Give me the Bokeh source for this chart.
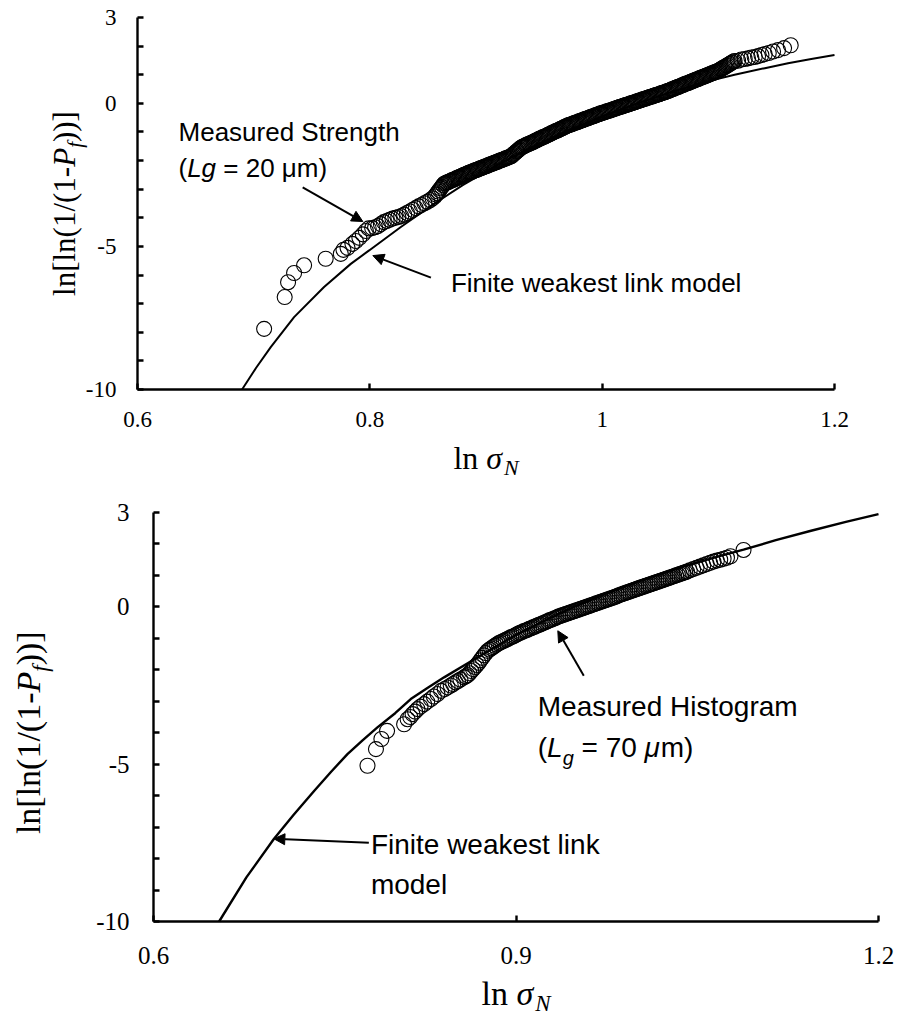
from bokeh.plotting import figure
from bokeh.layouts import column
from bokeh.models import Range1d, FixedTicker, Label, Arrow, NormalHead
from bokeh.embed import file_html
from bokeh.resources import INLINE
import math

# ---------------------------------------------------------------- data
# Upper panel: measured strength, Lg = 20 um  (ln sigma_N, ln[ln(1/(1-Pf))])
top_meas_x = [
    0.709, 0.7267, 0.7296, 0.7348, 0.7434, 0.762, 0.775, 0.7773, 0.7808, 0.785,
    0.788, 0.791, 0.794, 0.7966, 0.799,
    0.802, 0.8045, 0.807, 0.8095, 0.812, 0.8145, 0.817, 0.8195, 0.822, 0.8245,
    0.827, 0.8295, 0.832, 0.8345, 0.837, 0.8395, 0.842, 0.8445, 0.847, 0.8495,
    0.852, 0.854,
    0.856, 0.857, 0.858, 0.859, 0.860, 0.861, 0.862, 0.863, 0.864, 0.865,
    0.866, 0.867, 0.868, 0.869, 0.870, 0.871, 0.872, 0.873, 0.874, 0.875,
    0.876, 0.877, 0.878, 0.879, 0.880, 0.881, 0.882, 0.883, 0.884, 0.885,
    0.886, 0.887, 0.888, 0.889, 0.890, 0.891, 0.892, 0.893, 0.894, 0.895,
    0.896, 0.897, 0.898, 0.899, 0.900, 0.901, 0.902, 0.903, 0.904, 0.905,
    0.906, 0.907, 0.908, 0.909, 0.910, 0.911, 0.912, 0.913, 0.914, 0.915,
    0.916, 0.917, 0.918, 0.919, 0.920, 0.921, 0.922, 0.923, 0.924, 0.925,
    0.926, 0.927, 0.928, 0.929, 0.930, 0.931, 0.932, 0.933, 0.934, 0.935,
    0.936, 0.937, 0.938, 0.939, 0.940, 0.941, 0.942, 0.943, 0.944, 0.945,
    0.946, 0.947, 0.948, 0.949, 0.950, 0.951, 0.952, 0.953, 0.954, 0.955,
    0.956, 0.957, 0.958, 0.959, 0.960, 0.961, 0.962, 0.963, 0.964, 0.965,
    0.966, 0.967, 0.968, 0.969, 0.970, 0.971, 0.972, 0.973, 0.974, 0.975,
    0.976, 0.977, 0.978, 0.979, 0.980, 0.981, 0.982, 0.983, 0.984, 0.985,
    0.986, 0.987, 0.988, 0.989, 0.990, 0.991, 0.992, 0.993, 0.994, 0.995,
    0.996, 0.997, 0.998, 0.999, 1.000, 1.001, 1.002, 1.003, 1.004, 1.005,
    1.006, 1.007, 1.008, 1.009, 1.010, 1.011, 1.012, 1.013, 1.014, 1.015,
    1.016, 1.017, 1.018, 1.019, 1.020, 1.021, 1.022, 1.023, 1.024, 1.025,
    1.026, 1.027, 1.028, 1.029, 1.030, 1.031, 1.032, 1.033, 1.034, 1.035,
    1.036, 1.037, 1.038, 1.039, 1.040, 1.041, 1.042, 1.043, 1.044, 1.045,
    1.046, 1.047, 1.048, 1.049, 1.050, 1.051, 1.052, 1.053, 1.054, 1.055,
    1.056, 1.057, 1.058, 1.059, 1.060, 1.061, 1.062, 1.063, 1.064, 1.065,
    1.066, 1.067, 1.068, 1.069, 1.070, 1.071, 1.072, 1.073, 1.074, 1.075,
    1.076, 1.077, 1.078, 1.079, 1.080, 1.081, 1.082, 1.083, 1.084, 1.085,
    1.086, 1.087, 1.088, 1.089, 1.090, 1.091, 1.092, 1.093, 1.094, 1.095,
    1.096, 1.097, 1.098, 1.099, 1.100, 1.101, 1.102, 1.103, 1.104, 1.105,
    1.106, 1.107, 1.108, 1.109, 1.110, 1.111, 1.112, 1.113, 1.114,
    1.117, 1.1198, 1.1227, 1.1256, 1.1284, 1.1313, 1.1342, 1.1371, 1.1399,
    1.1434, 1.1471, 1.1514, 1.1566, 1.1623,
]
top_meas_y = [
    -7.88, -6.77, -6.25, -5.93, -5.66, -5.43, -5.26, -5.12, -5.05, -4.91,
    -4.81, -4.70, -4.58, -4.46, -4.37,
    -4.36, -4.33, -4.29, -4.22, -4.15, -4.11, -4.07, -4.03, -4.00, -3.97,
    -3.94, -3.89, -3.83, -3.78, -3.72, -3.66, -3.60, -3.55, -3.49, -3.44,
    -3.38, -3.32,
    -3.25, -3.19, -3.14, -3.08, -3.03, -2.97, -2.92, -2.86, -2.81, -2.79,
    -2.77, -2.76, -2.74, -2.72, -2.70, -2.68, -2.67, -2.65, -2.63, -2.61,
    -2.59, -2.58, -2.56, -2.54, -2.52, -2.50, -2.49, -2.47, -2.45, -2.43,
    -2.42, -2.40, -2.39, -2.37, -2.35, -2.34, -2.32, -2.31, -2.29, -2.27,
    -2.26, -2.24, -2.23, -2.21, -2.20, -2.18, -2.16, -2.15, -2.13, -2.11,
    -2.10, -2.08, -2.07, -2.05, -2.04, -2.02, -2.00, -1.99, -1.97, -1.96,
    -1.94, -1.92, -1.91, -1.89, -1.88, -1.86, -1.84, -1.80, -1.76, -1.73,
    -1.69, -1.66, -1.62, -1.59, -1.55, -1.53, -1.51, -1.49, -1.47, -1.45,
    -1.43, -1.41, -1.40, -1.38, -1.36, -1.34, -1.32, -1.30, -1.28, -1.26,
    -1.24, -1.22, -1.20, -1.18, -1.17, -1.15, -1.13, -1.11, -1.09, -1.07,
    -1.05, -1.03, -1.01, -0.99, -0.97, -0.96, -0.94, -0.92, -0.90, -0.88,
    -0.86, -0.84, -0.82, -0.80, -0.78, -0.77, -0.75, -0.74, -0.72, -0.71,
    -0.69, -0.68, -0.66, -0.65, -0.63, -0.62, -0.60, -0.59, -0.57, -0.56,
    -0.54, -0.53, -0.51, -0.50, -0.48, -0.47, -0.45, -0.44, -0.42, -0.41,
    -0.39, -0.38, -0.36, -0.35, -0.34, -0.32, -0.31, -0.30, -0.28, -0.27,
    -0.26, -0.24, -0.23, -0.22, -0.20, -0.19, -0.17, -0.16, -0.15, -0.13,
    -0.12, -0.11, -0.09, -0.08, -0.07, -0.05, -0.04, -0.03, -0.01, 0.00,
    0.01, 0.03, 0.04, 0.05, 0.07, 0.08, 0.10, 0.11, 0.12, 0.14,
    0.15, 0.16, 0.18, 0.19, 0.20, 0.22, 0.23, 0.24, 0.26, 0.27,
    0.28, 0.30, 0.31, 0.32, 0.34, 0.35, 0.37, 0.38, 0.39, 0.41,
    0.42, 0.44, 0.45, 0.47, 0.49, 0.50, 0.52, 0.54, 0.55, 0.57,
    0.58, 0.60, 0.62, 0.63, 0.65, 0.67, 0.68, 0.70, 0.71, 0.73,
    0.75, 0.76, 0.78, 0.80, 0.81, 0.83, 0.84, 0.86, 0.88, 0.89,
    0.91, 0.93, 0.94, 0.96, 0.97, 0.99, 1.01, 1.02, 1.04, 1.06,
    1.07, 1.09, 1.10, 1.12, 1.14, 1.16, 1.19, 1.21, 1.24, 1.26,
    1.28, 1.31, 1.33, 1.36, 1.38, 1.41, 1.43, 1.46, 1.48,
    1.49, 1.53, 1.55, 1.57, 1.60, 1.62, 1.65, 1.69, 1.72,
    1.76, 1.81, 1.86, 1.93, 2.03,
]
top_model_x = [0.690, 0.702, 0.7147, 0.7348, 0.7606, 0.7836, 0.7994, 0.8267,
               0.8554, 0.880, 0.910, 0.940, 0.970, 1.000, 1.030, 1.060, 1.090,
               1.114, 1.140, 1.160, 1.180, 1.200]
top_model_y = [-10.0, -9.25, -8.52, -7.47, -6.42, -5.61, -5.14, -4.32,
               -3.51, -2.86, -2.15, -1.52, -0.96, -0.46, 0.00, 0.40, 0.76,
               1.00, 1.23, 1.40, 1.55, 1.69]

# Lower panel: measured histogram, Lg = 70 um
bot_meas_x = [
    0.7771, 0.7841, 0.7886, 0.7933,
    0.8074, 0.8103, 0.8125, 0.8144, 0.8165, 0.8185, 0.821, 0.824, 0.8265,
    0.8296, 0.832, 0.835, 0.838, 0.841, 0.8434, 0.846, 0.848, 0.850, 0.852,
    0.854, 0.857,
    0.8585, 0.8600, 0.8615, 0.8630, 0.8645, 0.8660, 0.8675, 0.8690, 0.8705,
    0.8720, 0.8735, 0.8750, 0.8765, 0.8780, 0.8795, 0.8810, 0.8825, 0.8840,
    0.8855, 0.8870, 0.8885, 0.8900, 0.8915, 0.8930, 0.8945, 0.8960, 0.8975,
    0.8990, 0.9005, 0.9020, 0.9035, 0.9050, 0.9065, 0.9080, 0.9095, 0.9110,
    0.9125, 0.9140, 0.9155, 0.9170, 0.9185, 0.9200, 0.9215, 0.9230, 0.9245,
    0.9260, 0.9275, 0.9290, 0.9305, 0.9320, 0.9335, 0.9350, 0.9365, 0.9380,
    0.9395, 0.9410, 0.9425, 0.9440, 0.9455, 0.9470, 0.9485, 0.9500, 0.9515,
    0.9530, 0.9545, 0.9560, 0.9575, 0.9590, 0.9605, 0.9620, 0.9635, 0.9650,
    0.9665, 0.9680, 0.9695, 0.9710, 0.9725, 0.9740, 0.9755, 0.9770, 0.9785,
    0.9800, 0.9815, 0.9830, 0.9845, 0.9860, 0.9875, 0.9890, 0.9905, 0.9920,
    0.9935, 0.9950, 0.9965, 0.9980, 0.9995, 1.0010, 1.0025, 1.0040, 1.0055,
    1.0070, 1.0085, 1.0100, 1.0115, 1.0130, 1.0145, 1.0160, 1.0175, 1.0190,
    1.0205, 1.0220, 1.0235, 1.0250, 1.0265, 1.0280, 1.0295, 1.0310, 1.0325,
    1.0340, 1.0355, 1.0370, 1.0385, 1.0400, 1.0415,
    1.0438, 1.0466, 1.0494, 1.0522, 1.0550, 1.0578, 1.0606, 1.0634, 1.0662,
    1.0690, 1.0718, 1.0746, 1.0775, 1.0883,
]
bot_meas_y = [
    -5.05, -4.52, -4.20, -3.94,
    -3.73, -3.57, -3.50, -3.41, -3.33, -3.25, -3.17, -3.09, -3.01,
    -2.93, -2.85, -2.77, -2.67, -2.61, -2.56, -2.50, -2.45, -2.40, -2.36,
    -2.31, -2.24,
    -2.21, -2.17, -2.11, -2.04, -1.98, -1.91, -1.85, -1.78, -1.70,
    -1.62, -1.54, -1.47, -1.40, -1.36, -1.32, -1.28, -1.24, -1.20,
    -1.16, -1.13, -1.10, -1.08, -1.05, -1.02, -0.99, -0.96, -0.94,
    -0.91, -0.88, -0.85, -0.82, -0.80, -0.77, -0.75, -0.73, -0.70,
    -0.68, -0.65, -0.63, -0.60, -0.58, -0.56, -0.53, -0.51, -0.48,
    -0.46, -0.43, -0.41, -0.39, -0.36, -0.34, -0.31, -0.29, -0.27,
    -0.25, -0.23, -0.21, -0.19, -0.17, -0.15, -0.13, -0.11, -0.09,
    -0.07, -0.05, -0.03, -0.01, 0.01, 0.03, 0.05, 0.07, 0.09,
    0.11, 0.13, 0.15, 0.17, 0.19, 0.21, 0.23, 0.25, 0.27,
    0.29, 0.31, 0.33, 0.36, 0.38, 0.40, 0.42, 0.44, 0.46,
    0.48, 0.50, 0.52, 0.54, 0.56, 0.58, 0.60, 0.62, 0.64,
    0.66, 0.68, 0.70, 0.72, 0.74, 0.76, 0.78, 0.80, 0.82,
    0.84, 0.86, 0.88, 0.90, 0.92, 0.94, 0.96, 0.98, 1.00,
    1.02, 1.04, 1.06, 1.08, 1.10, 1.12,
    1.16, 1.20, 1.24, 1.28, 1.32, 1.36, 1.40, 1.44, 1.47,
    1.50, 1.53, 1.56, 1.61, 1.81,
]
bot_model_x = [0.6543, 0.677, 0.6996, 0.716, 0.7329, 0.747, 0.7605, 0.773,
               0.7853, 0.800, 0.8129, 0.827, 0.8405, 0.860, 0.880, 0.900,
               0.925, 0.950, 0.975, 1.000, 1.025, 1.0473, 1.070, 1.0883,
               1.115, 1.1442, 1.173, 1.200]
bot_model_y = [-10.0, -8.59, -7.38, -6.61, -5.85, -5.24, -4.68, -4.24,
               -3.83, -3.38, -2.93, -2.57, -2.24, -1.79, -1.34, -0.89,
               -0.41, 0.03, 0.43, 0.80, 1.12, 1.38, 1.63, 1.82,
               2.12, 2.42, 2.70, 2.95]

# tick positions and labels
top_xticks = [0.6, 0.8, 1.0, 1.2]
top_xlabels = ["0.6", "0.8", "1", "1.2"]
bot_xticks = [0.6, 0.9, 1.2]
bot_xlabels = ["0.6", "0.9", "1.2"]
yticks = list(range(-10, 4))
ylabels = {3: "3", 0: "0", -5: "-5", -10: "-10"}

X_LO, X_HI = 0.6, 1.2
Y_LO, Y_HI = -10.0, 3.0

SERIF = "Liberation Serif"
SANS = "Liberation Sans"

# approximate advance widths (em) used to chain mixed-style text runs
ADV = {
    (SANS, "normal"): {"(": .333, ")": .333, " ": .278, "=": .584, "m": .833,
                       "0": .556, "2": .556, "7": .556, "μ": .576},
    (SANS, "italic"): {"L": .556, "g": .556, "μ": .576},
    (SERIF, "normal"): {"l": .278, "n": .5, "[": .333, "]": .333, "(": .333,
                        ")": .333, "1": .5, "/": .278, "-": .333, " ": .25},
    (SERIF, "italic"): {"P": .611, "f": .278, "σ": .55, "N": .667},
}
# lift (in em) applied so that the drawn baseline sits on the anchor
BASELINE_LIFT = 0.4

# pixels per data unit of each panel
SCALE = {}


def text_w(txt, font, st, size):
    return sum(ADV[(font, st)].get(ch, .5) for ch in txt) * size


def place_run(p, key, pieces, x0, y0, font, angle=0.0, center=False):
    """Chain text pieces (text, style, size_px, baseline_drop_px)."""
    sx, sy = SCALE[key]
    total = sum(text_w(t, font, st, sz) for t, st, sz, _ in pieces)
    cursor = -total / 2 if center else 0.0
    base = max(sz for _, _, sz, _ in pieces)
    for txt, st, size, drop in pieces:
        shown = txt.strip(" ")
        lead = text_w(txt[:len(txt) - len(txt.lstrip(" "))], font, st, size)
        c = cursor + lead
        up = BASELINE_LIFT * size - drop - BASELINE_LIFT * (base - size) * 0
        if angle == 0.0:
            x, y = x0 + c / sx, y0 + up / sy
        else:
            x, y = x0 - up / sx, y0 + c / sy
        p.add_layout(Label(x=x, y=y, text=shown, text_font=font,
                           text_font_style=st, text_font_size=f"{size}px",
                           text_color="black", text_align="left",
                           text_baseline="alphabetic", angle=angle))
        cursor += text_w(txt, font, st, size)


def make_panel(key, height, box, xticks, xlabels, tick_px):
    """box = pixel edges (left, right, top, bottom) of the axes rectangle."""
    left, right, top, bottom = box
    sx = (right - left) / (X_HI - X_LO)
    sy = (bottom - top) / (Y_HI - Y_LO)
    SCALE[key] = (sx, sy)
    p = figure(width=898, height=height,
               x_range=Range1d(X_LO - left / sx, X_HI + (898 - right) / sx),
               y_range=Range1d(Y_LO - (height - bottom) / sy, Y_HI + top / sy),
               output_backend="svg", toolbar_location=None, title=None,
               min_border=0, min_border_left=0, min_border_right=0,
               min_border_top=0, min_border_bottom=0,
               background_fill_color="white", border_fill_color="white")
    p.grid.visible = False
    p.outline_line_color = None
    p.xaxis.fixed_location = Y_LO
    p.xaxis.bounds = (X_LO, X_HI)
    p.yaxis.fixed_location = X_LO
    p.yaxis.bounds = (Y_LO, Y_HI)
    for ax in (p.xaxis[0], p.yaxis[0]):
        ax.axis_line_width = 2.4
        ax.axis_line_color = "black"
        ax.major_tick_line_width = 2.4
        ax.major_tick_line_color = "black"
        ax.major_tick_in = 6
        ax.major_tick_out = 0
        ax.minor_tick_in = 0
        ax.minor_tick_out = 0
        ax.major_label_text_font = SERIF
        ax.major_label_text_font_size = f"{tick_px}px"
        ax.major_label_text_color = "black"
    p.xaxis.ticker = FixedTicker(ticks=xticks)
    p.xaxis.major_label_overrides = {t: s for t, s in zip(xticks, xlabels)}
    p.yaxis.ticker = FixedTicker(ticks=yticks)
    p.yaxis.major_label_overrides = {t: ylabels.get(t, "") for t in yticks}
    return p


def arrow(p, xs, ys, xe, ye):
    p.add_layout(Arrow(end=NormalHead(size=11, fill_color="black",
                                      line_color="black", line_width=1),
                       x_start=xs, y_start=ys, x_end=xe, y_end=ye,
                       line_width=2, line_color="black"))


# ---------------------------------------------------------------- upper panel
p1 = make_panel("top", 490, (137, 834, 17, 389), top_xticks, top_xlabels, 23)
p1.xaxis.major_label_standoff = 22
p1.yaxis.major_label_standoff = 21
p1.line(top_model_x, top_model_y, line_color="black", line_width=2)
p1.scatter(top_meas_x, top_meas_y, marker="circle", size=15,
           fill_alpha=0, line_color="black", line_width=1.1)

place_run(p1, "top", [("Measured Strength", "normal", 26, 0)], 0.6353, -1.37, SANS)
place_run(p1, "top", [("(", "normal", 26, 0), ("Lg", "italic", 26, 0),
                      (" = 20 μm)", "normal", 26, 0)], 0.6353, -2.63, SANS)
place_run(p1, "top", [("Finite weakest link model", "normal", 26, 0)], 0.8698, -6.65, SANS)
arrow(p1, 0.7422, -2.94, 0.794, -4.13)
arrow(p1, 0.8526, -6.09, 0.8026, -5.32)

place_run(p1, "top", [("ln ", "normal", 32, 0), ("σ", "italic", 32, 0),
                      ("N", "italic", 22, 6)], 0.9, -12.83, SERIF, center=True)
place_run(p1, "top", [("ln[ln(1/(1-", "normal", 31, 0), ("P", "italic", 31, 0),
                      ("f", "italic", 21, 6), ("))]", "normal", 31, 0)],
          0.548, -3.5, SERIF, angle=math.pi / 2, center=True)

# ---------------------------------------------------------------- lower panel
p2 = make_panel("bot", 531, (153, 878, 22, 431), bot_xticks, bot_xlabels, 25)
p2.xaxis.major_label_standoff = 25
p2.yaxis.major_label_standoff = 24
p2.line(bot_model_x, bot_model_y, line_color="black", line_width=2.4)
p2.scatter(bot_meas_x, bot_meas_y, marker="circle", size=15,
           fill_alpha=0, line_color="black", line_width=1.1)

place_run(p2, "bot", [("Measured Histogram", "normal", 28, 0)], 0.918, -3.53, SANS)
place_run(p2, "bot", [("(", "normal", 28, 0), ("L", "italic", 28, 0),
                      ("g", "italic", 20, 7), (" = 70 ", "normal", 28, 0),
                      ("μ", "italic", 28, 0), ("m)", "normal", 28, 0)],
          0.918, -4.83, SANS)
place_run(p2, "bot", [("Finite weakest link", "normal", 28, 0)], 0.7799, -7.91, SANS)
place_run(p2, "bot", [("model", "normal", 28, 0)], 0.7799, -9.18, SANS)
arrow(p2, 0.9561, -2.19, 0.9346, -0.76)
arrow(p2, 0.7782, -7.50, 0.6996, -7.37)

place_run(p2, "bot", [("ln ", "normal", 34, 0), ("σ", "italic", 34, 0),
                      ("N", "italic", 23, 6)], 0.9, -12.71, SERIF, center=True)
place_run(p2, "bot", [("ln[ln(1/(1-", "normal", 34, 0), ("P", "italic", 34, 0),
                      ("f", "italic", 23, 7), ("))]", "normal", 34, 0)],
          0.508, -4.0, SERIF, angle=math.pi / 2, center=True)

page = column(p1, p2)
open("out.html", "w").write(file_html(page, INLINE))
